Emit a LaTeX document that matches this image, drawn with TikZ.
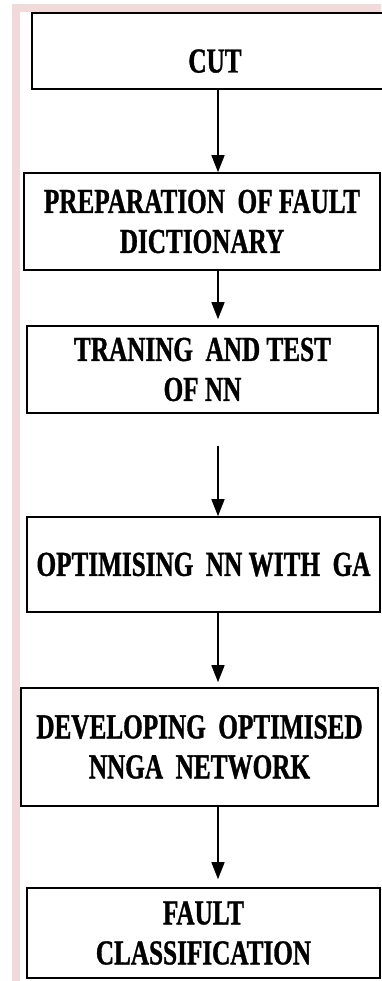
\documentclass[tikz,border=0pt]{standalone}
\usepackage{fontspec}
\usepackage{xcolor}
\usepackage{tikz}
\usetikzlibrary{arrows.meta}
\newfontfamily\stepfont{Liberation Serif}[FakeStretch=0.72,BoldFeatures={FakeBold=1}]
\definecolor{framepink}{RGB}{240,218,218}

\begin{document}
\begin{tikzpicture}[x=1pt,y=-1pt,
	stepbox/.style={draw,line width=1.6pt,rectangle,inner sep=0pt,align=center,
		font=\stepfont\bfseries\fontsize{35}{40}\selectfont},
	flow/.style={line width=1.5pt,-{Triangle[length=17pt,width=13pt]}}]
	\useasboundingbox (0,0) rectangle (381,981);
	\fill[framepink] (12,4) rectangle (381,981);
	\fill[white] (20,12) rectangle (381,981);
	\coordinate (axis) at (218,0);
	\node[stepbox,minimum width=366pt,minimum height=76pt,text height=43pt,text depth=0pt] (cut) at (215,51) {CUT};
	\node[stepbox,minimum width=356pt,minimum height=97pt] (prep) at (202,221.5) {PREPARATION~ OF FAULT\\DICTIONARY};
	\node[stepbox,minimum width=351pt,minimum height=87pt] (train) at (202.5,369.5) {TRANING~ AND TEST\\OF NN};
	\node[stepbox,minimum width=353pt,minimum height=95pt] (optim) at (203.5,564.5) {OPTIMISING~ NN WITH~ GA};
	\node[stepbox,minimum width=357pt,minimum height=118pt] (develop) at (199.5,747) {DEVELOPING~ OPTIMISED\\NNGA~ NETWORK};
	\node[stepbox,minimum width=353pt,minimum height=90pt] (classif) at (203.5,933) {FAULT\\CLASSIFICATION};
	\draw[flow] (cut.south -| axis) -- (prep.north -| axis);
	\draw[flow,shorten >=6pt] (prep.south -| axis) -- (train.north -| axis);
	\draw[flow,shorten <=32pt] (train.south -| axis) -- (optim.north -| axis);
	\draw[flow,shorten >=5pt] (optim.south -| axis) -- (develop.north -| axis);
	\draw[flow,shorten >=8pt] (develop.south -| axis) -- (classif.north -| axis);
\end{tikzpicture}
\end{document}
